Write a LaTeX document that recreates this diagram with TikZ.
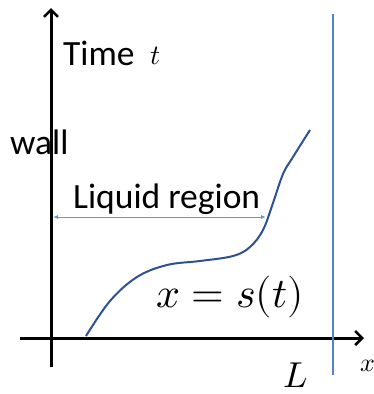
\documentclass[tikz,border=0pt]{standalone}
\usepackage{amsmath}
\usepackage{fontspec}
\usepackage{unicode-math}
\setmainfont{Carlito}
\setmathfont{Latin Modern Math}
\usepackage{tikz}
\usetikzlibrary{arrows.meta,positioning}

\definecolor{curveblue}{RGB}{47,82,143}
\definecolor{lineblue}{RGB}{90,130,195}
\definecolor{arrowblue}{RGB}{91,155,213}

\begin{document}
\begin{tikzpicture}[x=1pt,y=-1pt,
  axis/.style={line width=3pt,-{Straight Barb[length=7pt,width=14pt,line width=2.5pt]}},
  lbl/.style={anchor=base west,inner sep=0pt,font=\fontsize{35.5}{38}\selectfont},
  mlbl/.style={anchor=base west,inner sep=0pt}]
\useasboundingbox (0,0) rectangle (374,394);
% axes
\coordinate (O) at (51,338);
\coordinate (ybot) at (51,367);
\coordinate (ytop) at (51,8);
\coordinate (xleft) at (20,338);
\coordinate (xright) at (364,338);
\draw[axis] (ybot) -- (ytop);
\draw[axis] (xleft) -- (xright);
% line at x = L
\coordinate (Ltop) at (333,14);
\coordinate (Lbot) at (333,375);
\draw[lineblue,line width=1.2pt] (Ltop) -- (Lbot);
% front x = s(t)
\draw[curveblue,line width=2pt] plot[smooth,tension=0.6] coordinates
  {(86,336) (110,301) (137,277) (167,265) (200,261) (233,256) (250,247)
   (263,230) (273,203) (283,174) (293,157) (310,130)};
% labels
\node[lbl] (time) at (63,65) {Time};
\node[mlbl,font=\fontsize{28}{30}\selectfont] (tvar) at (150,64) {$t$};
\node[lbl] (wall) at (10,154) {wall};
\node[lbl] (liquid) at (73,208) {Liquid region};
\node[mlbl,font=\fontsize{42}{46}\selectfont] (front) at (156,307) {$x=s(t)$};
\node[mlbl,font=\fontsize{36}{40}\selectfont] (Llab) at (283,387) {$L$};
\node[mlbl,font=\fontsize{26}{28}\selectfont] (xvar) at (360,371) {$x$};
% liquid region arrow
\coordinate (wallpt) at (53,217);
\coordinate (frontpt) at (266,217);
\draw[arrowblue,line width=1pt,{Latex[length=5pt,width=4pt]}-{Latex[length=5pt,width=4pt]}] (wallpt) -- (frontpt);
\end{tikzpicture}
\end{document}
